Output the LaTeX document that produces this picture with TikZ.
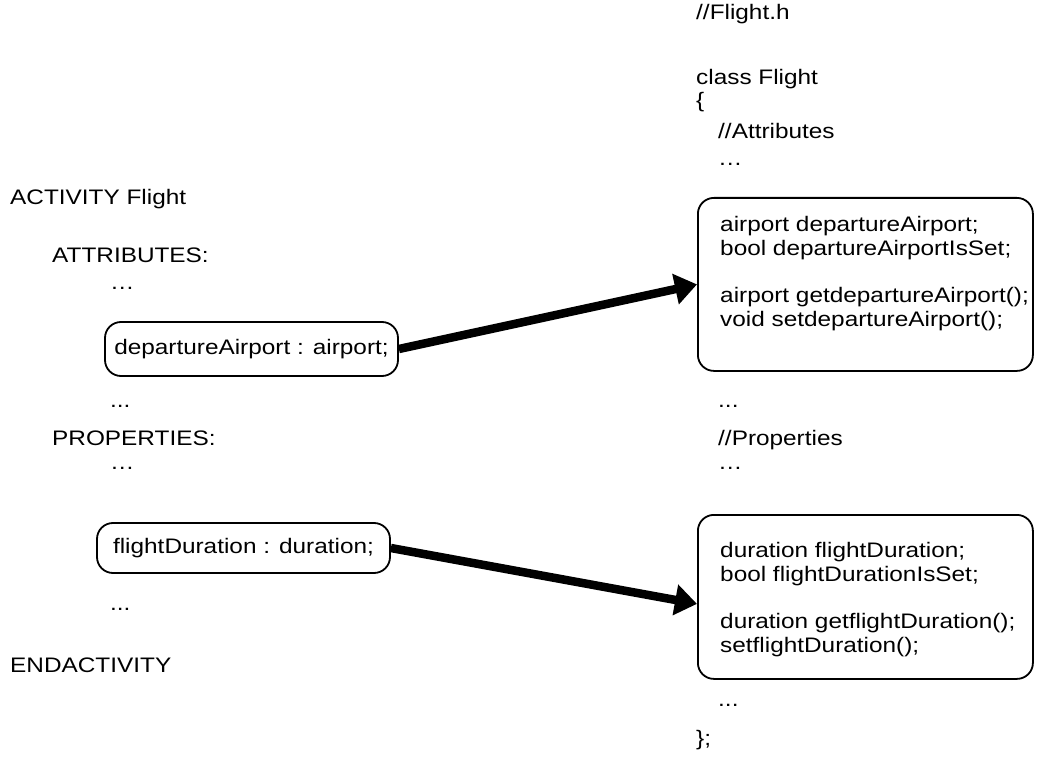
\documentclass[tikz,border=0pt]{standalone}
\usepackage{fontspec}
\setmainfont[FakeStretch = 1.16]{Liberation Sans}
\usetikzlibrary{arrows.meta}

\tikzset{
  txt/.style = {anchor = west, inner sep = 0pt, text height = 15pt, text depth = 4pt,
                font = \fontsize{21}{24.5}\selectfont},
  code/.style = {anchor = north west, inner sep = 0pt, align = left,
                 font = \fontsize{21}{24.5}\selectfont},
  codebox/.style = {draw, line width = 1.8pt, rounded corners = 16pt, inner sep = 0pt,
                    font = \fontsize{21}{24.5}\selectfont},
  bigarrow/.style = {line width = 8.5pt, -{Triangle[length = 22pt, width = 30pt]}}
}

\begin{document}
\begin{tikzpicture}[x = 1pt, y = -1pt]
    \useasboundingbox (0, 0) rectangle (1039, 770);

    % left: activity description
    \node[txt] (activity) at (10, 199) {ACTIVITY Flight};
    \node[txt] (attrlabel) at (52, 257) {ATTRIBUTES:};
    \node[txt] (attrdotsL) at (110, 284) {\ldots};
    \node[codebox, minimum width = 293pt, minimum height = 54pt]
        (deptbox) at (251.5, 349) {departureAirport : airport;};
    \node[txt] (attrmoreL) at (110, 402) {...};
    \node[txt] (proplabel) at (52, 440) {PROPERTIES:};
    \node[txt] (propdotsL) at (110, 464) {\ldots};
    \node[codebox, minimum width = 293pt, minimum height = 50pt]
        (durbox) at (243.5, 548) {flightDuration : duration;};
    \node[txt] (propmoreL) at (110, 605) {...};
    \node[txt] (endact) at (10, 667) {ENDACTIVITY};

    % right: generated header
    \node[txt] (flighth) at (696, 14) {//Flight.h};
    \node[txt] (classname) at (696, 79) {class Flight};
    \node[txt] (openbrace) at (696, 102) {\{};
    \node[txt] (attrcomment) at (718, 133) {//Attributes};
    \node[txt] (attrdots) at (718, 160) {\ldots};
    \node[codebox, minimum width = 335pt, minimum height = 173pt, anchor = north west]
        (attrbox) at (697, 197) {};
    \node[code] (attrcode) at (720, 216) {airport departureAirport;\\
        bool departureAirportIsSet;\\[22pt]
        airport getdepartureAirport();\\
        void setdepartureAirport();};
    \node[txt] (attrmore) at (718, 402) {...};
    \node[txt] (propcomment) at (718, 440) {//Properties};
    \node[txt] (propdots) at (718, 464) {\ldots};
    \node[codebox, minimum width = 335pt, minimum height = 164pt, anchor = north west]
        (propbox) at (697, 514) {};
    \node[code] (propcode) at (720, 542) {duration flightDuration;\\
        bool flightDurationIsSet;\\[22pt]
        duration getflightDuration();\\
        setflightDuration();};
    \node[txt] (propmore) at (718, 701) {...};
    \node[txt] (closebrace) at (696, 740) {\};};

    % mapping arrows
    \draw[bigarrow] (deptbox.east) -- (attrbox.west);
    \draw[bigarrow] (durbox.east) -- ([yshift = -7pt]propbox.west);
\end{tikzpicture}
\end{document}
